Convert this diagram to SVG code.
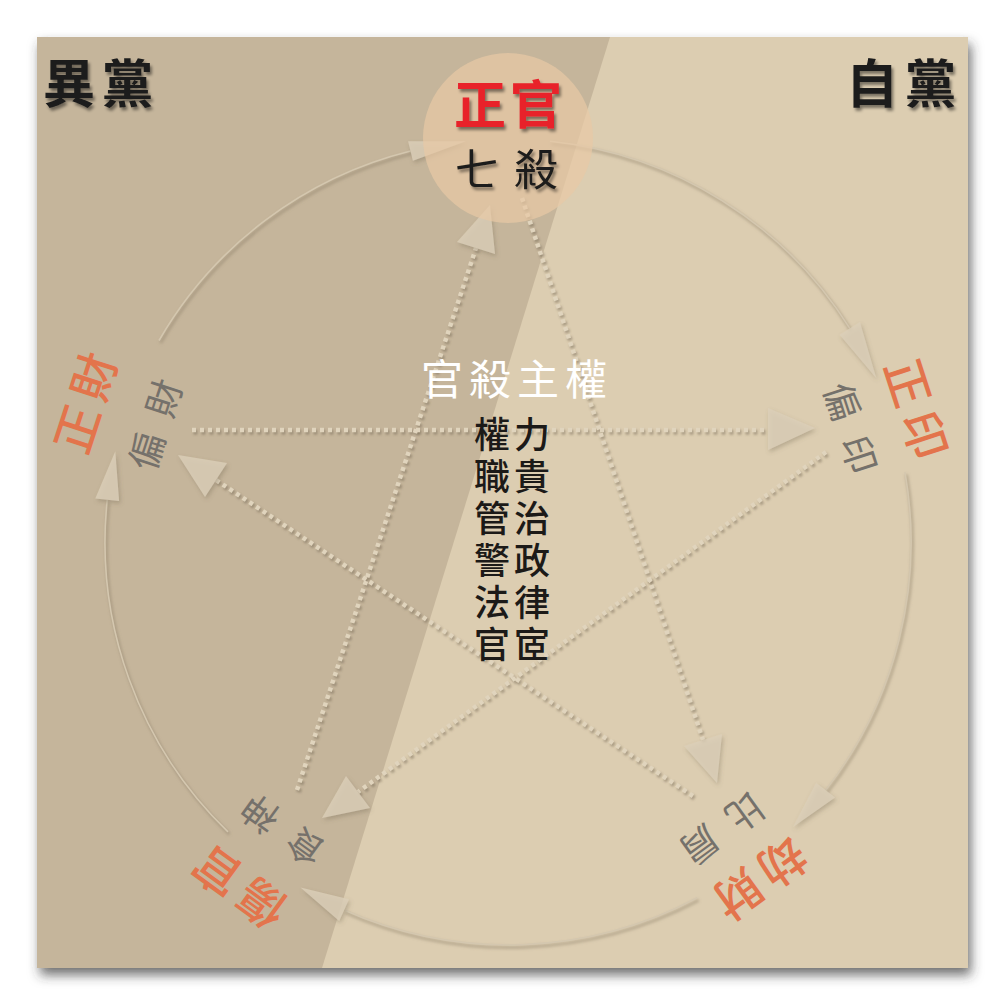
<svg xmlns="http://www.w3.org/2000/svg" width="1004" height="1004" viewBox="0 0 1004 1004">
  <defs>
    <filter id="pageShadow" x="-5%" y="-5%" width="112%" height="112%">
      <feDropShadow dx="3" dy="7" stdDeviation="6" flood-color="#333" flood-opacity="0.7"/>
    </filter>
    <filter id="textShadow" x="-20%" y="-20%" width="140%" height="150%">
      <feDropShadow dx="2" dy="3" stdDeviation="1.8" flood-color="#000" flood-opacity="0.45"/>
    </filter>
    <filter id="softShadow" x="-30%" y="-30%" width="160%" height="160%">
      <feDropShadow dx="1.5" dy="2.5" stdDeviation="2" flood-color="#6b5e48" flood-opacity="0.4"/>
    </filter>
    <filter id="blur2" x="-10%" y="-10%" width="120%" height="120%">
      <feGaussianBlur stdDeviation="1.6"/>
    </filter>
    <filter id="blur1" x="-5%" y="-5%" width="110%" height="110%">
      <feGaussianBlur stdDeviation="0.9"/>
    </filter>
    <style>
      text { font-family: "Noto Sans CJK TC", "Noto Sans CJK SC", sans-serif; }
      .corner { font-size: 52px; font-weight: 700; fill: #1a1a1a; letter-spacing: 6.5px; }
      .main { font-size: 47px; font-weight: 500; fill: #e3744c; letter-spacing: 8px; text-anchor: middle; }
      .sub { font-size: 37px; font-weight: 400; fill: #75716b; letter-spacing: 19px; text-anchor: middle; }
      .list { font-size: 36px; font-weight: 500; fill: #1c1a18; letter-spacing: 4px; }
      .dotShadow { fill: none; stroke: #6e624e; stroke-opacity: 0.45; stroke-width: 5; stroke-dasharray: 4 4; }
      .dot { fill: none; stroke: #e0d4bd; stroke-width: 4.5; stroke-dasharray: 4 4; }
      .arcShadow { fill: none; stroke: #8a7d66; stroke-opacity: 0.45; stroke-width: 3; }
      .arc { fill: none; stroke: #d4c7af; stroke-width: 1.6; }
      .head { fill: #dcd0b9; fill-opacity: 0.8; }
    </style>
  </defs>

  <rect width="1004" height="1004" fill="#ffffff"/>

  <g id="background">
    <rect x="37" y="37" width="931" height="931" fill="#dccdb1" filter="url(#pageShadow)"/>
    <polygon points="37,37 610,37 322,968 37,968" fill="#c5b59b"/>
  </g>

  <g id="connectors">
    <g id="ring-arcs">
      <g transform="translate(1.5,2.5)" filter="url(#blur2)">
        <path class="arcShadow" d="M159,340.5 A403,403 0 0 1 410.5,151"/>
        <path class="arcShadow" d="M550.1,141.2 A403,403 0 0 1 849.8,328.4"/>
        <path class="arcShadow" d="M904.9,472 A403,403 0 0 1 825.6,790.1"/>
        <path class="arcShadow" d="M697.2,897.8 A403,403 0 0 1 344.1,910.1"/>
        <path class="arcShadow" d="M228,831.9 A403,403 0 0 1 107.2,499.9"/>
      </g>
      <path class="arc" d="M159,340.5 A403,403 0 0 1 410.5,151"/>
      <path class="arc" d="M550.1,141.2 A403,403 0 0 1 849.8,328.4"/>
      <path class="arc" d="M904.9,472 A403,403 0 0 1 825.6,790.1"/>
      <path class="arc" d="M697.2,897.8 A403,403 0 0 1 344.1,910.1"/>
      <path class="arc" d="M228,831.9 A403,403 0 0 1 107.2,499.9"/>
      <g filter="url(#softShadow)">
        <polygon class="head" points="465.9,141.2 408.1,141.3 412.9,160.7"/>
        <polygon class="head" points="876.2,378.1 859.9,322.1 839.6,334.8"/>
        <polygon class="head" points="793,827 835,797.5 816.1,782.7"/>
        <polygon class="head" points="300.5,887.4 339.2,921.1 349,899.2"/>
        <polygon class="head" points="115.3,451.3 95.3,498.6 119.1,501.1"/>
      </g>
    </g>
    <g id="star-lines">
      <g transform="translate(1.5,2.2)" filter="url(#blur1)">
        <path class="dotShadow" d="M192,430 L768,430"/>
        <path class="dotShadow" d="M522,198 L703,740"/>
        <path class="dotShadow" d="M826,452 L358,792"/>
        <path class="dotShadow" d="M297,790 L476,248"/>
        <path class="dotShadow" d="M693,796 L216,480"/>
      </g>
      <path class="dot" d="M192,430 L768,430"/>
      <path class="dot" d="M522,198 L703,740"/>
      <path class="dot" d="M826,452 L358,792"/>
      <path class="dot" d="M297,790 L476,248"/>
      <path class="dot" d="M693,796 L216,480"/>
      <g filter="url(#softShadow)">
        <polygon class="head" points="815,428 768,408 768,450"/>
        <polygon class="head" points="717,783 684,746 722,734"/>
        <polygon class="head" points="322,818 370,808 346,776"/>
        <polygon class="head" points="490,205 495,254 457,242"/>
        <polygon class="head" points="178,455 227,463 205,497"/>
      </g>
    </g>
  </g>

  <g id="label-faction-other">
    <text class="corner" x="43" y="103" filter="url(#textShadow)">異黨</text>
  </g>
  <g id="label-faction-self">
    <text class="corner" x="846" y="103" filter="url(#textShadow)">自黨</text>
  </g>

  <g id="node-top">
    <circle cx="508" cy="138" r="85" fill="#e8c9a5" fill-opacity="0.7"/>
    <text x="510" y="124" text-anchor="middle" font-size="52" font-weight="700" fill="#e8202a" letter-spacing="4" filter="url(#textShadow)">正官</text>
    <text x="514" y="186" text-anchor="middle" font-size="44" font-weight="400" fill="#1e1c1a" letter-spacing="15" filter="url(#textShadow)">七殺</text>
  </g>

  <g id="node-left" transform="translate(86,403) rotate(-72)">
    <text class="main" x="4" y="17">正財</text>
  </g>
  <g id="node-left-sub" transform="translate(156,425) rotate(-72)">
    <text class="sub" x="9.5" y="13.3">偏財</text>
  </g>

  <g id="node-right" transform="translate(916,409) rotate(72)">
    <text class="main" x="4" y="17">正印</text>
  </g>
  <g id="node-right-sub" transform="translate(850,428) rotate(72)">
    <text class="sub" x="9.5" y="13.3">偏印</text>
  </g>

  <g id="node-bottom-right" transform="translate(760,878) rotate(144)">
    <text class="main" x="4" y="17">劫財</text>
  </g>
  <g id="node-bottom-right-sub" transform="translate(722,828) rotate(144)">
    <text class="sub" x="9.5" y="13.3">比肩</text>
  </g>

  <g id="node-bottom-left" transform="translate(240,887) rotate(-144)">
    <text class="main" x="4" y="17">傷官</text>
  </g>
  <g id="node-bottom-left-sub" transform="translate(283,830) rotate(-144)">
    <text class="sub" x="9.5" y="13.3">食神</text>
  </g>

  <g id="center">
    <text x="421" y="395" font-size="42" font-weight="400" fill="#ffffff" letter-spacing="6">官殺主權</text>
    <text class="list" x="474" y="448">權力</text>
    <text class="list" x="474" y="490">職貴</text>
    <text class="list" x="474" y="532">管治</text>
    <text class="list" x="474" y="574">警政</text>
    <text class="list" x="474" y="616">法律</text>
    <text class="list" x="474" y="658">官宧</text>
  </g>
</svg>
